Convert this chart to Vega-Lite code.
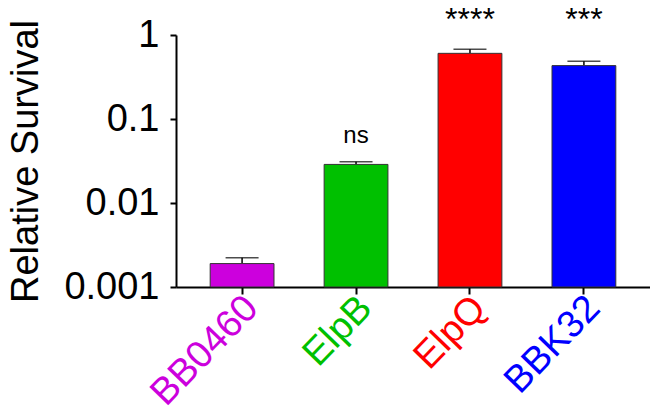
{
  "$schema": "https://vega.github.io/schema/vega-lite/v6.json",
  "autosize": {"type": "none"},
  "padding": {"left": 176, "top": 35, "right": 0, "bottom": 130},
  "width": 474,
  "height": 252,
  "background": "white",
  "config": {
    "view": {"stroke": null},
    "font": "Liberation Sans",
    "axis": {"grid": false, "domainColor": "black", "tickColor": "black", "labelColor": "black", "titleColor": "black", "labelFont": "Liberation Sans", "titleFont": "Liberation Sans"}
  },
  "data": {
    "values": [
      {"strain": "BB0460", "survival": 0.0019, "upper": 0.00223, "sig": "", "sig_pos": 1.147},
      {"strain": "ElpB", "survival": 0.0288, "upper": 0.031, "sig": "ns", "sig_pos": 0.0518},
      {"strain": "ElpQ", "survival": 0.605, "upper": 0.676, "sig": "****", "sig_pos": 1.147},
      {"strain": "BBK32", "survival": 0.432, "upper": 0.486, "sig": "***", "sig_pos": 1.147}
    ]
  },
  "encoding": {
    "x": {
      "field": "strain",
      "type": "nominal",
      "sort": null,
      "scale": {"paddingInner": 0.44, "paddingOuter": 0.3},
      "axis": {
        "title": null,
        "labelAngle": -46,
        "labelAlign": "right",
        "labelBaseline": "middle",
        "labelFontSize": 38,
        "labelPadding": 8,
        "labelOffset": 10,
        "tickSize": 7,
        "tickWidth": 2,
        "domainWidth": 2,
        "labelColor": {
          "condition": [
            {"test": "datum.value == 'BB0460'", "value": "#cc00dd"},
            {"test": "datum.value == 'ElpB'", "value": "#00c000"},
            {"test": "datum.value == 'ElpQ'", "value": "#ff0000"}
          ],
          "value": "#0000ff"
        }
      }
    }
  },
  "layer": [
    {
      "mark": {"type": "rule", "color": "black", "strokeWidth": 1.5},
      "encoding": {
        "y": {"field": "survival", "type": "quantitative"},
        "y2": {"field": "upper"}
      }
    },
    {
      "mark": {"type": "tick", "color": "black", "thickness": 1.5, "size": 33},
      "encoding": {
        "y": {"field": "upper", "type": "quantitative"}
      }
    },
    {
      "mark": {"type": "bar", "stroke": "#333333", "strokeWidth": 1},
      "encoding": {
        "y": {
          "field": "survival",
          "type": "quantitative",
          "scale": {"type": "log", "domain": [0.001, 1]},
          "axis": {
            "title": "Relative Survival",
            "titleFontSize": 38,
            "titleFontWeight": "normal",
            "titlePadding": 18,
            "values": [0.001, 0.01, 0.1, 1],
            "format": "~g",
            "labelFontSize": 38,
            "labelPadding": 11,
            "tickSize": 6,
            "tickWidth": 2,
            "domainWidth": 2
          }
        },
        "y2": {"datum": 0.001},
        "color": {
          "field": "strain",
          "type": "nominal",
          "scale": {"domain": ["BB0460", "ElpB", "ElpQ", "BBK32"], "range": ["#cc00dd", "#00c000", "#ff0000", "#0000ff"]},
          "legend": null
        }
      }
    },
    {
      "mark": {"type": "text", "baseline": "alphabetic", "align": "center", "fontSize": 24, "color": "black"},
      "transform": [{"filter": "datum.sig == 'ns'"}],
      "encoding": {
        "y": {"field": "sig_pos", "type": "quantitative"},
        "text": {"field": "sig"}
      }
    },
    {
      "mark": {"type": "text", "baseline": "alphabetic", "align": "center", "fontSize": 32, "color": "black"},
      "transform": [{"filter": "datum.sig != 'ns' && datum.sig != ''"}],
      "encoding": {
        "y": {"field": "sig_pos", "type": "quantitative"},
        "text": {"field": "sig"}
      }
    }
  ]
}
